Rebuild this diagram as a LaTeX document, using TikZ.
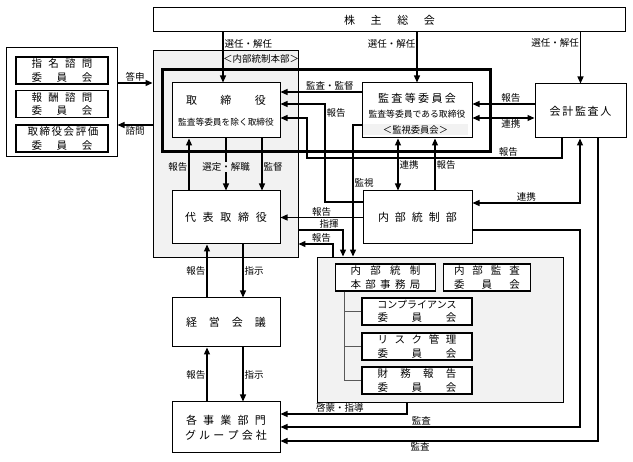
\documentclass[tikz,border=0pt]{standalone}
\usepackage{fontspec}
\setmainfont{Noto Sans CJK JP}
\usepackage{tikz}
\usetikzlibrary{arrows.meta,calc}
\definecolor{orgink}{gray}{0}
\definecolor{orgpaper}{gray}{1}
\definecolor{orgshade}{gray}{0.95}
\definecolor{orgline}{gray}{0.35}
\newcommand{\spr}[2]{\makebox[#1pt][s]{#2}}
\begin{document}
\begin{tikzpicture}[x=1pt,y=-1pt,
  box/.style={draw=orgink,line width=1pt,fill=orgpaper,inner sep=0pt,align=center,
    font=\fontsize{11}{15}\selectfont},
  smallbox/.style={box,line width=1.4pt,font=\fontsize{10.5}{13.5}\selectfont},
  region/.style={draw=orgink,line width=.9pt,fill=orgshade,inner sep=0pt},
  flow/.style={-{Triangle[length=7pt,width=6pt]},line width=1.2pt},
  twoway/.style={{Triangle[length=7pt,width=6pt]}-{Triangle[length=7pt,width=6pt]},line width=1.2pt},
  branch/.style={draw=orgline,line width=.6pt},
  note/.style={font=\fontsize{9.5}{11}\selectfont,inner sep=1pt}]
\useasboundingbox (0,0) rectangle (633,462);
\node[region,minimum width=145,minimum height=207] (hq) at (225.5,153.5) {};
\node[region,minimum width=246,minimum height=145] (cmt) at (440,329.5) {};
\node[note] (hqtag) at (261,59) {＜内部統制本部＞};
\node[draw=orgink,line width=3pt,minimum width=328,minimum height=82] (board) at (326,111) {};
\node[box,minimum width=472,minimum height=24] (gm) at (389.5,20) {\spr{91}{株 主 総 会}};
\node[box,minimum width=111,minimum height=109] (adv) at (61.5,102.5) {};
\node[smallbox,minimum width=92,minimum height=27] (nom) at (62,70.5) {\spr{61}{指 名 諮 問}\\\spr{61}{委 員 会}};
\node[smallbox,minimum width=92,minimum height=27] (rem) at (62,104) {\spr{61}{報 酬 諮 問}\\\spr{61}{委 員 会}};
\node[smallbox,minimum width=92,minimum height=27] (evl) at (62,138.5) {\spr{69}{取 締 役 会 評 価}\\\spr{61}{委 員 会}};
\node[box,minimum width=108,minimum height=55] (dir) at (226,110.5) {\spr{80}{取 締 役}\\[6pt]{\fontsize{8.7}{10}\selectfont 監査等委員を除く取締役}};
\node[box,minimum width=110,minimum height=55] (ac) at (417,110.5) {};
\node[fill=orgshade,minimum width=105,minimum height=11,inner sep=0pt,font=\fontsize{9.3}{10}\selectfont] (acband) at (415.5,130) {＜監視委員会＞};
\node[font=\fontsize{11}{12}\selectfont,inner sep=0pt] (actitle) at (417,98) {\spr{78}{監 査 等 委 員 会}};
\node[font=\fontsize{8.8}{10}\selectfont,inner sep=0pt] (acsub) at (417,114) {監査等委員である取締役};
\node[box,minimum width=91,minimum height=54] (aud) at (580.5,111) {\spr{62}{会 計 監 査 人}};
\node[box,minimum width=108,minimum height=53] (rep) at (226,217.5) {\spr{82}{代 表 取 締 役}};
\node[box,minimum width=109,minimum height=53] (icd) at (417.5,217.5) {\spr{79}{内 部 統 制 部}};
\node[box,minimum width=108,minimum height=49] (mgt) at (226,322.5) {\spr{80}{経 営 会 議}};
\node[box,minimum width=108,minimum height=51] (biz) at (226,427.5) {\spr{80}{各 事 業 部 門}\\\spr{82}{グ ル ー プ 会 社}};
\node[smallbox,minimum width=100,minimum height=27] (sec) at (385.5,277.5) {\spr{70}{内 部 統 制}\\\spr{70}{本 部 事 務 局}};
\node[smallbox,minimum width=87,minimum height=27] (iac) at (487,277.5) {\spr{66}{内 部 監 査}\\\spr{66}{委 員 会}};
\node[smallbox,minimum width=110,minimum height=27] (cmp) at (417,311.5) {{\fontsize{10}{13.5}\selectfont コンプライアンス}\\\spr{79}{委 員 会}};
\node[smallbox,minimum width=110,minimum height=27] (rsk) at (417,346.5) {\spr{79}{リ ス ク 管 理}\\\spr{79}{委 員 会}};
\node[smallbox,minimum width=110,minimum height=27] (fin) at (417,380.5) {\spr{79}{財 務 報 告}\\\spr{79}{委 員 会}};
% shareholders
\draw[flow] (gm.south -| 223,0) -- node[note,pos=.22,anchor=west]{選任・解任} (dir.north -| 223,0);
\draw[flow] (gm.south -| 417,0) -- node[note,pos=.22,anchor=east]{選任・解任} (ac.north);
\draw[flow] (gm.south -| 580.5,0) -- node[note,pos=.21,anchor=east]{選任・解任} (aud.north);
% advisory committees
\draw[flow] (adv.east |- 0,83) -- node[note,above]{答申} (hq.west |- 0,83);
\draw[flow] (hq.west |- 0,125) -- node[note,below]{諮問} (adv.east |- 0,125);
% board
\draw[flow] (ac.west |- 0,92) -- node[note,above,pos=.39]{監査・監督} (dir.east |- 0,92);
\draw[flow] (icd.west |- 0,202) -- (325,202) -- node[note,right,pos=.91]{報告} (325,104) -- (dir.east |- 0,104);
\draw[flow] (aud.south -| 562,0) -- (562,158) -- node[note,above,pos=.21]{報告} (307,158) -- (307,118) -- (dir.east |- 0,118);
\draw[flow] (aud.west |- 0,104) -- node[note,above,pos=.38]{報告} (ac.east |- 0,104);
\draw[twoway] (ac.east |- 0,118) -- node[note,below,pos=.62]{連携} (aud.west |- 0,118);
\draw[flow] (rep.north -| 189,0) -- node[note,left,pos=.45]{報告} (dir.south -| 189,0);
\draw[flow] (dir.south) -- node[note,fill=orgshade,pos=.55]{選定・解職} (rep.north);
\draw[flow] (dir.south -| 262,0) -- node[note,right,pos=.55]{監督} (rep.north -| 262,0);
\draw[twoway] (ac.south -| 398,0) -- node[note,right]{連携} (icd.north -| 398,0);
\draw[flow] (icd.north -| 435,0) -- node[note,right]{報告} (ac.south -| 435,0);
\draw[flow] (ac.west |- 0,125) -- (353,125) -- node[note,right,pos=.44]{監視} (cmt.north -| 353,0);
% internal control
\draw[flow] (icd.west) -- node[note,above]{報告} (rep.east);
\draw[flow] (hq.east |- 0,230) -- node[note,above,pos=.69]{指揮} (343,230) -- (cmt.north -| 343,0);
\draw[flow] (cmt.north -| 333,0) -- (333,244) -- node[note,above,pos=.34]{報告} (hq.east |- 0,244);
% line of command
\draw[flow] (mgt.north -| 207,0) -- node[note,left]{報告} (rep.south -| 207,0);
\draw[flow] (rep.south -| 243,0) -- node[note,right]{指示} (mgt.north -| 243,0);
\draw[flow] (biz.north -| 207,0) -- node[note,left]{報告} (mgt.south -| 207,0);
\draw[flow] (mgt.south -| 243,0) -- node[note,right]{指示} (biz.north -| 243,0);
% audit lines
\draw[twoway] (aud.south -| 580,0) -- (580,203) -- node[note,above]{連携} (icd.east |- 0,203);
\draw[flow] (icd.east |- 0,230) -- (580,230) -- (580,427) -- node[note,above,pos=.53]{監査} (biz.east |- 0,427);
\draw[flow] (aud.south -| 598,0) -- (598,441) -- node[note,below,pos=.56]{監査} (biz.east |- 0,441);
\draw[flow] (cmt.south -| 407,0) -- (407,414) -- node[note,above,pos=.53]{啓蒙・指導} (biz.east |- 0,414);
% committee tree
\draw[branch] (sec.south -| 344,0) |- (cmp.west) (sec.south -| 344,0) |- (rsk.west) (sec.south -| 344,0) |- (fin.west);
\end{tikzpicture}
\end{document}
